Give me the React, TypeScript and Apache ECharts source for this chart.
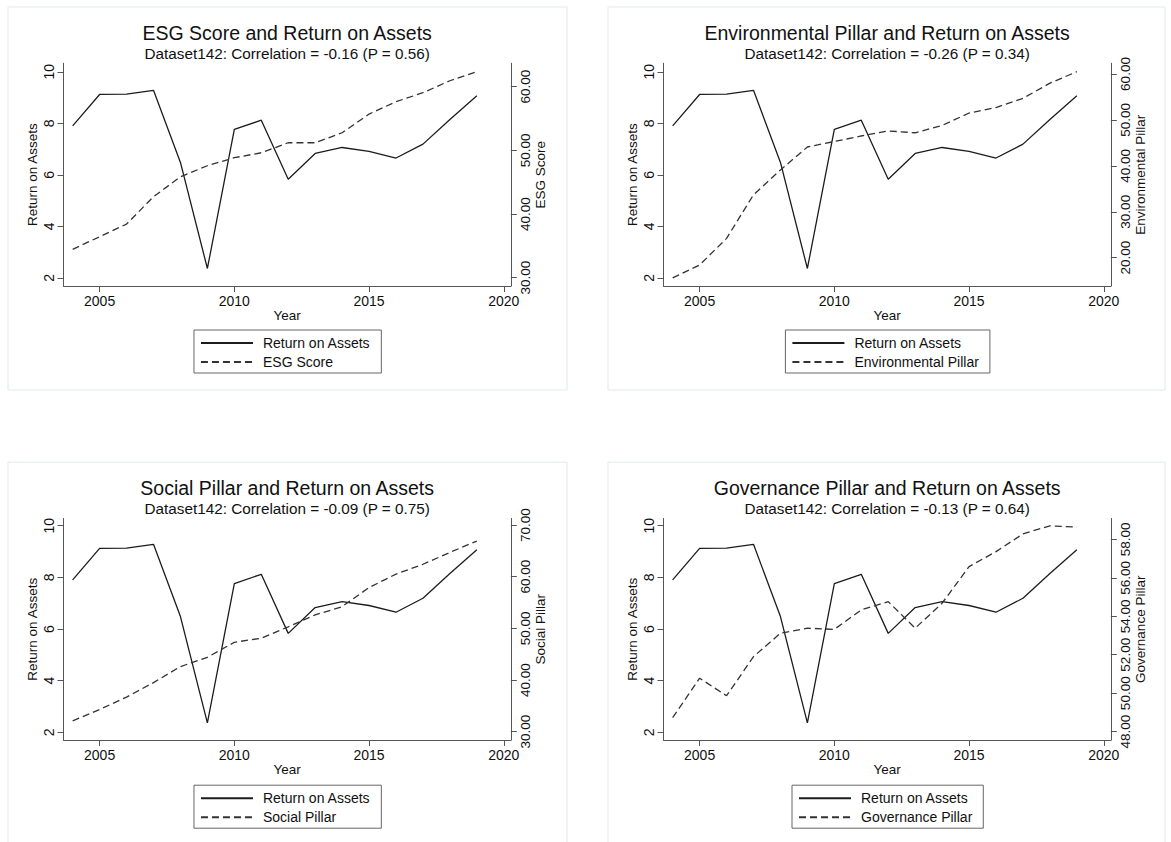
import React, { useEffect, useRef } from "react";
import * as echarts from "echarts";

// ---- data ----
const years = [2004, 2005, 2006, 2007, 2008, 2009, 2010, 2011, 2012, 2013, 2014, 2015, 2016, 2017, 2018, 2019];
const roa = [7.9, 9.12, 9.13, 9.28, 6.48, 2.36, 7.76, 8.12, 5.83, 6.83, 7.06, 6.91, 6.65, 7.19, 8.15, 9.07];
const esgScore = [34.46, 36.44, 38.43, 42.72, 45.86, 47.59, 48.85, 49.63, 51.2, 51.2, 52.77, 55.71, 57.64, 59.06, 60.94, 62.35];
const envPillar = [15.6, 18.4, 24.2, 33.7, 39.1, 44.1, 45.3, 46.5, 47.6, 47.2, 48.8, 51.5, 52.7, 54.7, 58.0, 60.5];
const socPillar = [32.1, 34.3, 36.7, 39.5, 42.6, 44.4, 47.3, 48.1, 50.3, 52.6, 54.2, 57.9, 60.5, 62.4, 64.7, 66.9];
const govPillar = [48.73, 50.78, 49.87, 51.9, 53.12, 53.38, 53.32, 54.33, 54.76, 53.38, 54.68, 56.58, 57.36, 58.28, 58.7, 58.63];

const yearTicks = [2005, 2010, 2015, 2020];
const roaTicks = [2, 4, 6, 8, 10];
const esgTicks = [30, 40, 50, 60];
const envTicks = [20, 30, 40, 50, 60];
const socTicks = [30, 40, 50, 60, 70];
const govTicks = [48, 50, 52, 54, 56, 58];

const roaName = "Return on Assets";

const panels = [
  { name: "ESG Score", title: "ESG Score and Return on Assets", sub: "Dataset142: Correlation = -0.16 (P = 0.56)", values: esgScore, ticks: esgTicks, rmin: 28.7, rmax: 63.68, lmin: 1.68, lmax: 10.33 },
  { name: "Environmental Pillar", title: "Environmental Pillar and Return on Assets", sub: "Dataset142: Correlation = -0.26 (P = 0.34)", values: envPillar, ticks: envTicks, rmin: 13.83, rmax: 62.33, lmin: 1.68, lmax: 10.33 },
  { name: "Social Pillar", title: "Social Pillar and Return on Assets", sub: "Dataset142: Correlation = -0.09 (P = 0.75)", values: socPillar, ticks: socTicks, rmin: 28.39, rmax: 71.26, lmin: 1.7, lmax: 10.28 },
  { name: "Governance Pillar", title: "Governance Pillar and Return on Assets", sub: "Dataset142: Correlation = -0.13 (P = 0.64)", values: govPillar, ticks: govTicks, rmin: 47.57, rmax: 59.08, lmin: 1.7, lmax: 10.28 },
];

// layout
const FONT = "'Liberation Sans', Arial, Helvetica, sans-serif";
const offsets = [
  { dx: 0, dy: 0, h: 222.7 },
  { dx: 600, dy: 0, h: 222.7 },
  { dx: 0, dy: 455.2, h: 221.5 },
  { dx: 600, dy: 455.2, h: 221.5 },
];
const GL = 63.5;
const GT = 63.3;
const GW = 447.3;
const TXT = "#111";
const AX = "#555";

function measure(text: string, size: number) {
  const c = document.createElement("canvas").getContext("2d");
  if (!c) return text.length * size * 0.5;
  c.font = `${size}px 'Liberation Sans', Arial, sans-serif`;
  return c.measureText(text).width;
}

export default function App() {
  const ref = useRef<HTMLDivElement>(null);
  useEffect(() => {
    if (!ref.current) return;
    const chart = echarts.init(ref.current, null, { renderer: "svg" });

    const grid: any[] = [];
    const xAxis: any[] = [];
    const yAxis: any[] = [];
    const series: any[] = [];
    const legend: any[] = [];
    const title: any[] = [];
    const graphic: any[] = [];

    panels.forEach((p, i) => {
      const o = offsets[i];
      const left = GL + o.dx;
      const top = GT + o.dy;
      const cx = left + GW / 2;
      grid.push({ left, top, width: GW, height: o.h, containLabel: false });

      xAxis.push({
        type: "value",
        gridIndex: i,
        min: 2003.66,
        max: 2020.26,
        name: "Year",
        nameLocation: "middle",
        nameGap: 21,
        nameTextStyle: { fontSize: 13.5, color: TXT, fontFamily: FONT },
        axisLine: { show: true, onZero: false, lineStyle: { color: AX, width: 1 } },
        axisTick: { show: true, length: 6, customValues: yearTicks, lineStyle: { color: AX } },
        axisLabel: { customValues: yearTicks, formatter: (v: number) => String(v), fontSize: 14, color: TXT, fontFamily: FONT, margin: 8 },
        splitLine: { show: false },
      });

      yAxis.push({
        type: "value",
        gridIndex: i,
        position: "left",
        min: p.lmin,
        max: p.lmax,
        name: roaName,
        nameLocation: "middle",
        nameRotate: 90,
        nameGap: 24,
        nameTextStyle: { fontSize: 13.5, color: TXT, fontFamily: FONT },
        axisLine: { show: true, onZero: false, lineStyle: { color: AX, width: 1 } },
        axisTick: { show: true, length: 6, customValues: roaTicks, lineStyle: { color: AX } },
        axisLabel: { customValues: roaTicks, rotate: 90, fontSize: 14, color: TXT, fontFamily: FONT, margin: 8 },
        splitLine: { show: false },
      });
      yAxis.push({
        type: "value",
        gridIndex: i,
        position: "right",
        min: p.rmin,
        max: p.rmax,
        name: p.name,
        nameLocation: "middle",
        nameRotate: 90,
        nameGap: 23,
        nameTextStyle: { fontSize: 13.5, color: TXT, fontFamily: FONT },
        axisLine: { show: true, onZero: false, lineStyle: { color: AX, width: 1 } },
        axisTick: { show: true, length: 6, customValues: p.ticks, lineStyle: { color: AX } },
        axisLabel: { customValues: p.ticks, rotate: 90, fontSize: 13.5, color: TXT, fontFamily: FONT, margin: 8, formatter: (v: number) => v.toFixed(2) },
        splitLine: { show: false },
      });

      series.push({
        type: "line",
        name: roaName,
        xAxisIndex: i,
        yAxisIndex: 2 * i,
        data: years.map((y, k) => [y, roa[k]]),
        symbol: "none",
        showSymbol: false,
        color: "#1c1c1c",
        lineStyle: { color: "#1c1c1c", width: 1.3 },
      });
      series.push({
        type: "line",
        name: p.name,
        xAxisIndex: i,
        yAxisIndex: 2 * i + 1,
        data: years.map((y, k) => [y, p.values[k]]),
        symbol: "none",
        showSymbol: false,
        color: "#333333",
        lineStyle: { color: "#333333", width: 1.3, type: [7, 4] },
      });

      const tw = Math.max(measure(roaName, 14), measure(p.name, 14));
      const lw = 6 + 52 + 5 + 5 + tw + 11;
      legend.push({
        orient: "vertical",
        left: cx - lw / 2,
        top: 330 + o.dy,
        data: [roaName, p.name],
        itemWidth: 52,
        itemHeight: 14,
        itemGap: 5,
        padding: [6, 11, 4, 6],
        borderColor: "#666",
        borderWidth: 1,
        selectedMode: false,
        itemStyle: { opacity: 0, borderWidth: 0 },
        textStyle: { fontSize: 14, color: TXT, fontFamily: FONT, padding: [0, 0, 0, 5] },
      });

      title.push({
        text: p.title,
        subtext: p.sub,
        left: cx - 5,
        top: 17.5 + o.dy,
        textAlign: "center",
        itemGap: 3,
        padding: 5,
        textStyle: { fontSize: 19.5, fontWeight: "normal", color: TXT, fontFamily: FONT },
        subtextStyle: { fontSize: 15.3, color: TXT, fontFamily: FONT },
      });

      graphic.push({
        type: "rect",
        z: -10,
        silent: true,
        shape: { x: 8 + o.dx, y: 7 + o.dy, width: i % 2 === 0 ? 559 : 557, height: i < 2 ? 383 : 400 },
        style: { fill: "#ffffff", stroke: "#e3e9ea", lineWidth: 1 },
      });
    });

    chart.setOption({
      animation: false,
      backgroundColor: "#ffffff",
      textStyle: { fontFamily: FONT },
      title,
      grid,
      xAxis,
      yAxis,
      series,
      legend,
      graphic,
      tooltip: { show: false },
    });
    return () => chart.dispose();
  }, []);

  return <div ref={ref} style={{ position: "absolute", left: 0, top: 0, width: 1171, height: 842, background: "#fff" }} />;
}
